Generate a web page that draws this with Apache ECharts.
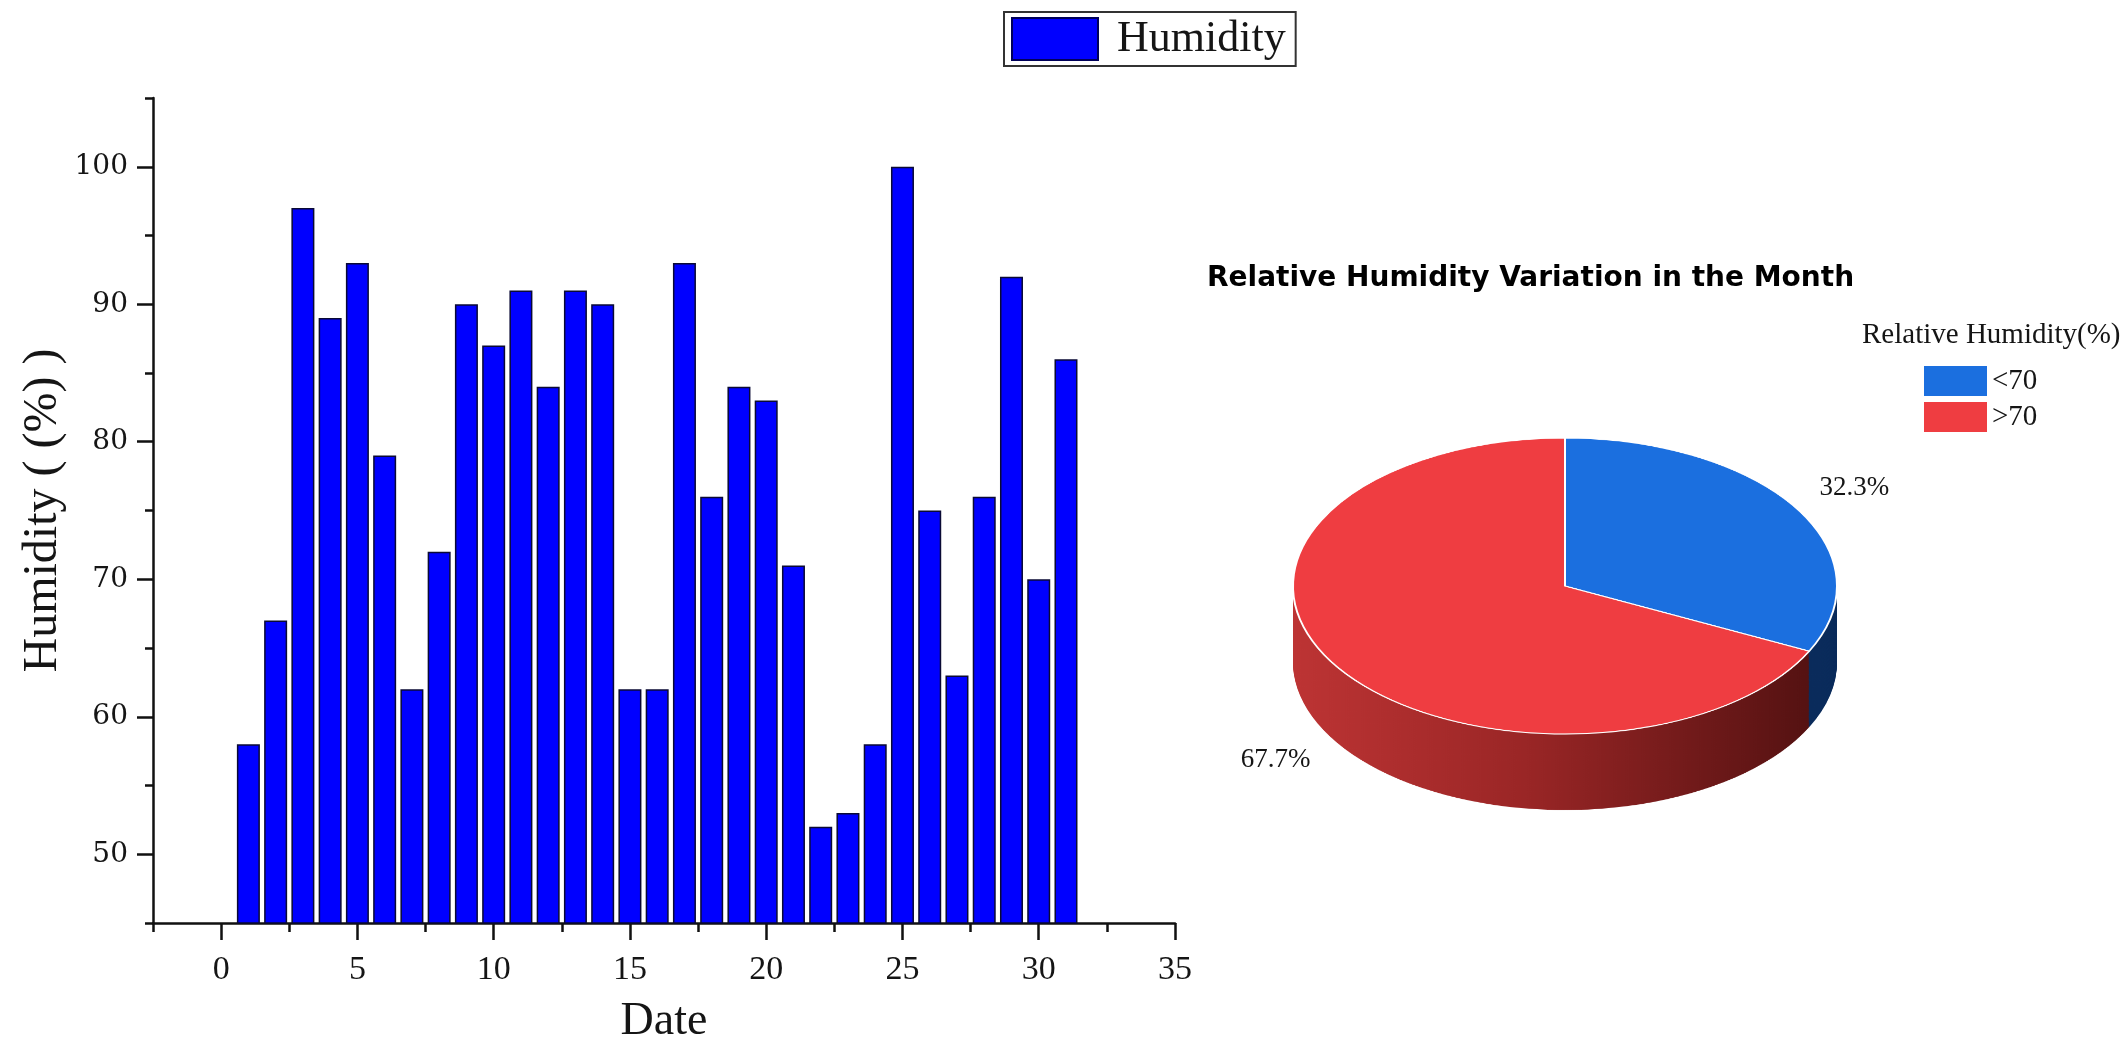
<!DOCTYPE html>
<html>
<head>
<meta charset="utf-8">
<script src="https://cdn.jsdelivr.net/npm/echarts@6/dist/echarts.min.js"></script>
<style>
html,body{margin:0;padding:0;background:#fff;overflow:hidden;}
#main{position:absolute;left:0;top:0;width:2128px;height:1042px;}
#pie3d{position:absolute;left:1265px;top:400px;width:600px;height:800px;transform:scaleY(0.5441);transform-origin:0 0;}
</style>
</head>
<body>
<div id="main"></div>
<div id="pie3d"></div>
<script>
// ---------- data ----------
const dates = [1,2,3,4,5,6,7,8,9,10,11,12,13,14,15,16,17,18,19,20,21,22,23,24,25,26,27,28,29,30,31];
const humidity = [58,67,97,89,93,79,62,72,90,87,91,84,91,90,62,62,93,76,84,83,71,52,53,58,100,75,63,76,92,70,86];
const xTickLabels = [0,5,10,15,20,25,30,35];
const xMinorTicks = [-2.5,2.5,7.5,12.5,17.5,22.5,27.5,32.5];
const yTickLabels = [50,60,70,80,90,100];
const yMinorTicks = [45,55,65,75,85,95,105];
const pieCategories = ['<70','>70'];
const pieCounts = [10,21];

// ---------- layout constants ----------
const K = 0.5441;          // vertical squash of the pie (tilt)
const CX = 1565, CY = 586; // pie top-face centre on the page
const R = 272;             // pie radius (horizontal)
const DEPTH = 76;          // visible thickness of the pie
const B_LEFT = 1265, B_TOP = 400;
const TXT = '#151515';

// ---------- main chart: bars, titles, legends, pie labels ----------
const main = echarts.init(document.getElementById('main'), null, {renderer:'canvas'});
const mainOption = {
  animation: false,
  backgroundColor: '#ffffff',
  title: [
    {text: 'Relative Humidity Variation in the Month', left: 1207, top: 265, padding: 0,
     textStyle: {fontFamily: 'DejaVu Sans', fontWeight: 'bold', fontSize: 28, color: '#000'}},
    {text: 'Relative Humidity(%)', left: 1862, top: 321, padding: 0,
     textStyle: {fontFamily: 'Liberation Serif', fontWeight: 'normal', fontSize: 29, color: TXT}}
  ],
  legend: [
    {data: ['Humidity'], left: 1004, top: 12, padding: [5, 10, 5, 7],
     borderColor: '#333', borderWidth: 2, icon: 'rect', itemWidth: 86, itemHeight: 42,
     itemStyle: {color: '#0000ff', borderColor: '#00005a', borderWidth: 2},
     textStyle: {fontFamily: 'Liberation Serif', fontSize: 44, color: TXT, padding: [0, 0, 0, 14]},
     selectedMode: false},
    {data: pieCategories.map((n, j) => ({name: n, itemStyle: {color: j === 0 ? '#1b6fdf' : '#ef3d41', opacity: 1, borderWidth: 0}})),
     orient: 'vertical', left: 1924, top: 366, padding: 0, icon: 'rect',
     itemWidth: 63, itemHeight: 30, itemGap: 6, selectedMode: false,
     textStyle: {fontFamily: 'Liberation Serif', fontSize: 29, color: TXT}}
  ],
  grid: {left: 153, top: 98, width: 1022, height: 825, containLabel: false, outerBoundsMode: 'none'},
  xAxis: [
    {type: 'value', min: -2.5, max: 35, position: 'bottom',
     axisLine: {show: true, onZero: false, lineStyle: {color: '#111', width: 2.5}},
     axisTick: {show: true, customValues: xTickLabels, length: 17, inside: false, lineStyle: {color: '#111', width: 2.5}},
     axisLabel: {customValues: xTickLabels, fontFamily: 'Liberation Serif', fontSize: 34, color: TXT, margin: 30},
     splitLine: {show: false},
     name: 'Date', nameLocation: 'middle', nameGap: 76,
     nameTextStyle: {fontFamily: 'Liberation Serif', fontSize: 46, color: TXT}},
    {type: 'value', min: -2.5, max: 35, position: 'bottom',
     axisLine: {show: false, onZero: false},
     axisTick: {show: true, customValues: xMinorTicks, length: 9, inside: false, lineStyle: {color: '#111', width: 2.5}},
     axisLabel: {show: false}, splitLine: {show: false}}
  ],
  yAxis: [
    {type: 'value', min: 45, max: 105, position: 'left',
     axisLine: {show: true, onZero: false, lineStyle: {color: '#111', width: 2.5}},
     axisTick: {show: true, customValues: yTickLabels, length: 16, inside: false, lineStyle: {color: '#111', width: 2.5}},
     axisLabel: {customValues: yTickLabels, fontFamily: 'DejaVu Serif', fontSize: 28, color: TXT, margin: 25},
     splitLine: {show: false},
     name: 'Humidity ( (%) )', nameLocation: 'middle', nameGap: 86,
     nameTextStyle: {fontFamily: 'Liberation Serif', fontSize: 48, color: TXT}},
    {type: 'value', min: 45, max: 105, position: 'left', offset: 0,
     axisLine: {show: false, onZero: false},
     axisTick: {show: true, customValues: yMinorTicks, length: 8, inside: false, lineStyle: {color: '#111', width: 2.5}},
     axisLabel: {show: false}, splitLine: {show: false}}
  ],
  series: [
    {type: 'bar', name: 'Humidity', xAxisIndex: 0, yAxisIndex: 0, barWidth: 23, clip: true,
     itemStyle: {color: '#0000ff', borderColor: '#0a0a35', borderWidth: 1.5},
     emphasis: {disabled: true},
     data: dates.map((d, i) => [d, humidity[i]])},
    // invisible companion of the 3D pie: carries the percentage labels and the legend entries
    {type: 'pie', name: 'Relative Humidity', silent: true, center: [CX, CY], radius: [0, 676],
     startAngle: 90, clockwise: true, percentPrecision: 1,
     itemStyle: {color: 'rgba(0,0,0,0)', borderWidth: 0},
     label: {show: true, position: 'inside', formatter: '{d}%', fontFamily: 'Liberation Serif', fontSize: 27, color: TXT},
     labelLine: {show: false},
     labelLayout: function (p) {
       const r = p.labelRect;
       const ly = r.y + r.height / 2;
       const ny = CY + (ly - CY) * K + (ly > CY ? DEPTH : 0);
       return {dy: ny - ly};
     },
     emphasis: {disabled: true},
     data: pieCategories.map((n, j) => ({name: n, value: pieCounts[j]}))}
  ]
};
main.setOption(mainOption);

// ---------- tilted 3D pie (drawn unsquashed, squashed by CSS) ----------
const pie = echarts.init(document.getElementById('pie3d'), null, {renderer:'canvas'});
const cxB = CX - B_LEFT;
const cyB = (CY - B_TOP) / K;
const depthB = DEPTH / K;
const N = 80;
const redWall = {type: 'linear', x: 0, y: 0, x2: 1, y2: 0,
  colorStops: [{offset: 0, color: '#bd3434'}, {offset: 0.45, color: '#9a2626'}, {offset: 1, color: '#551212'}]};
const blueWall = '#0b2c5c';
const pieSeries = [];
for (let i = 0; i < N; i++) {
  const off = depthB * (1 - i / N);
  pieSeries.push({
    type: 'pie', silent: true, animation: false, center: [cxB, cyB + off], radius: [0, R],
    startAngle: 90, clockwise: true, label: {show: false}, labelLine: {show: false},
    emphasis: {disabled: true}, itemStyle: {borderWidth: 0},
    data: pieCategories.map((n, j) => ({name: n, value: pieCounts[j], itemStyle: {color: j === 0 ? blueWall : redWall}}))
  });
}
pieSeries.push({
  type: 'pie', silent: true, animation: false, center: [cxB, cyB], radius: [0, R],
  startAngle: 90, clockwise: true, label: {show: false}, labelLine: {show: false},
  emphasis: {disabled: true}, itemStyle: {borderColor: '#ffffff', borderWidth: 2},
  data: pieCategories.map((n, j) => ({name: n, value: pieCounts[j], itemStyle: {color: j === 0 ? '#1b6fdf' : '#ef3d41'}}))
});
pie.setOption({animation: false, series: pieSeries});
</script>
</body>
</html>
